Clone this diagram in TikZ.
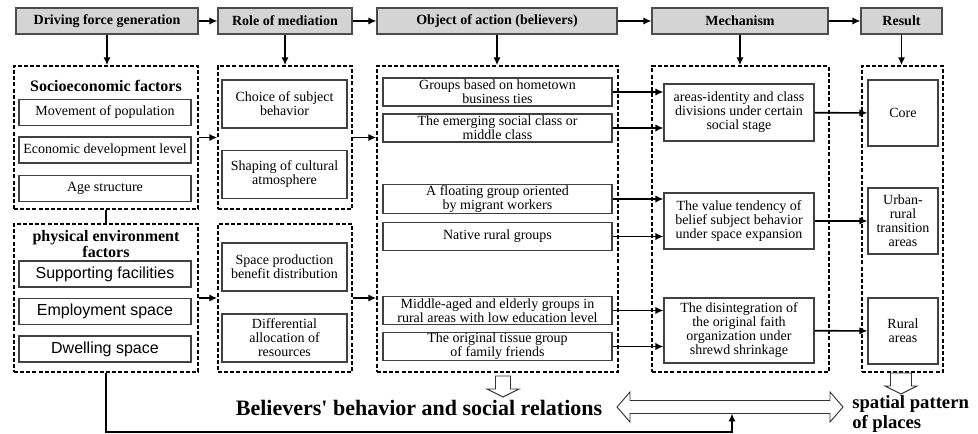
\documentclass[tikz,border=0pt]{standalone}
\usepackage{fontspec}
\setmainfont{Liberation Serif}
\newfontfamily\arialfont{Liberation Sans}
\newfontfamily\plainserif{Liberation Serif}[Ligatures=TeXOff]
\usetikzlibrary{arrows.meta}

\begin{document}
\begin{tikzpicture}[
    x=0.75pt, y=-0.75pt,
    every node/.append style={font=\fontsize{10.5}{10.5}\selectfont},
    header/.style={rectangle, draw=black!70, line width=0.8pt, fill=black!17, minimum height=19.5pt, inner sep=0pt, font=\fontsize{10.5}{12}\selectfont\bfseries},
    frame/.style={rectangle, draw=black, line width=1.1pt, dash pattern=on 3pt off 1.6pt, inner sep=0pt},
    item/.style={rectangle, draw=black!75, line width=0.8pt, fill=white, align=center, inner sep=0.5pt},
    sitem/.style={item, font=\arialfont\fontsize{12}{12}\selectfont},
    title/.style={align=center, font=\fontsize{12}{10.5}\selectfont\bfseries},
    arr/.style={-{Latex[length=6pt,width=5.5pt]}, line width=1.2pt},
    hollow/.style={draw=black!80, line width=0.7pt, fill=white}
]
    \useasboundingbox (0,0) rectangle (978,434);

    % Kopfzeile
    \node[header, minimum width=136.5pt] (hDrive) at (107,21) {Driving force generation};
    \node[header, minimum width=100.5pt] (hRole) at (285,21) {Role of mediation};
    \node[header, minimum width=180pt] (hObject) at (497,21) {Object of action (believers)};
    \node[header, minimum width=132pt] (hMech) at (740,21) {Mechanism};
    \node[header, minimum width=60.75pt] (hResult) at (901.5,21) {Result};

    % Rahmen
    \node[frame, minimum width=138pt, minimum height=107.25pt] (fSocio) at (106,137.5) {};
    \node[frame, minimum width=138pt, minimum height=111pt] (fPhys) at (106,298) {};
    \node[frame, minimum width=100.5pt, minimum height=107.25pt] (fRole1) at (285,137.5) {};
    \node[frame, minimum width=100.5pt, minimum height=111pt] (fRole2) at (285,298) {};
    \node[frame, minimum width=180.75pt, minimum height=229.5pt] (fObject) at (497.5,219) {};
    \node[frame, minimum width=132.75pt, minimum height=229.5pt] (fMech) at (740.5,219) {};
    \node[frame, minimum width=60.75pt, minimum height=229.5pt] (fResult) at (902.5,219) {};

    % Antriebskraft
    \node[title] (tSocio) at (106,86) {Socioeconomic factors};
    \node[item, minimum width=129pt, minimum height=19.5pt] (sMove) at (105,112.5) {Movement of population};
    \node[item, minimum width=129pt, minimum height=19.5pt] (sEcon) at (105,150) {Economic development level};
    \node[item, minimum width=129pt, minimum height=19.5pt] (sAge) at (105,188.5) {Age structure};
    \node[title] (tPhys) at (106,244) {physical environment\\factors};
    \node[sitem, minimum width=129pt, minimum height=19.5pt] (pSupp) at (105,274) {Supporting facilities};
    \node[sitem, minimum width=129pt, minimum height=19.5pt] (pEmpl) at (105,311.5) {Employment space};
    \node[sitem, minimum width=129pt, minimum height=19.5pt] (pDwell) at (105,349) {Dwelling space};

    % Vermittlung
    \node[item, minimum width=93.75pt, minimum height=36pt] (rChoice) at (284.5,104) {Choice of subject\\behavior};
    \node[item, minimum width=93.75pt, minimum height=36pt] (rShape) at (284.5,174.5) {Shaping of cultural\\atmosphere};
    \node[item, minimum width=93.75pt, minimum height=36pt] (rSpace) at (284.5,267) {Space production\\benefit distribution};
    \node[item, minimum width=93.75pt, minimum height=36pt] (rDiff) at (284.5,338) {Differential\\allocation of\\resources};

    % Glaeubige
    \node[item, minimum width=171.75pt, minimum height=21pt] (o1) at (497.5,92) {Groups based on hometown\\business ties};
    \node[item, minimum width=171.75pt, minimum height=21pt] (o2) at (497.5,128) {The emerging social class or\\middle class};
    \node[item, minimum width=171.75pt, minimum height=21pt] (o3) at (497.5,199) {A floating group oriented\\by migrant workers};
    \node[item, minimum width=171.75pt, minimum height=21pt] (o4) at (497.5,236.5) {Native rural groups};
    \node[item, minimum width=171.75pt, minimum height=21pt] (o5) at (497.5,310.5) {Middle-aged and elderly groups in\\rural areas with low education level};
    \node[item, minimum width=171.75pt, minimum height=21pt] (o6) at (497.5,346.5) {The original tissue group\\of family friends};

    % Mechanismus
    \node[item, minimum width=112.5pt, minimum height=42.75pt] (m1) at (739,112.5) {areas-identity and class\\divisions under certain\\social stage};
    \node[item, minimum width=112.5pt, minimum height=42pt] (m2) at (739,221) {The value tendency of\\belief subject behavior\\under space expansion};
    \node[item, minimum width=112.5pt, minimum height=48.75pt] (m3) at (739,330.5) {The disintegration of\\the original faith\\organization under\\shrewd shrinkage};

    % Ergebnis
    \node[item, minimum width=52.5pt, minimum height=49.5pt] (rsCore) at (903,113) {Core};
    \node[item, minimum width=52.5pt, minimum height=49.5pt] (rsTrans) at (903,221) {Urban-\\rural\\transition\\areas};
    \node[item, minimum width=52.5pt, minimum height=49.5pt] (rsRural) at (903,331) {Rural\\areas};

    % Pfeile
    \draw[arr] (hDrive) -- (hRole);
    \draw[arr] (hRole) -- (hObject);
    \draw[arr] (hObject) -- (hMech);
    \draw[arr] (hMech) -- (hResult);
    \draw[arr] (hDrive.south) -- (hDrive.south |- fSocio.north);
    \draw[arr] (hRole) -- (fRole1);
    \draw[arr] (hObject.south) -- (hObject.south |- fObject.north);
    \draw[arr] (hMech.south) -- (hMech.south |- fMech.north);
    \draw[arr] (hResult.south) -- (hResult.south |- fResult.north);
    \draw[line width=1.2pt] (fSocio) -- (fPhys);
    \draw[arr] (fSocio) -- (fRole1);
    \draw[arr] (fPhys) -- (fRole2);
    \draw[arr] (fRole1.east) -- (fRole1.east -| fObject.west);
    \draw[arr] (fRole2.east) -- (fRole2.east -| fObject.west);
    \draw[arr] (o1.east) -- (o1.east -| m1.west);
    \draw[arr] (o2.east) -- (o2.east -| m1.west);
    \draw[arr] (o3.east) -- (o3.east -| m2.west);
    \draw[arr] (o4.east) -- (o4.east -| m2.west);
    \draw[arr] (o5.east) -- (o5.east -| m3.west);
    \draw[arr] (o6.east) -- (o6.east -| m3.west);
    \draw[arr] (m1) -- (rsCore);
    \draw[arr] (m2) -- (rsTrans);
    \draw[arr] (m3) -- (rsRural);

    % Blockpfeile unten
    \draw[hollow] (495.5,376) -- (510.5,376) -- (510.5,389) -- (519,389) -- (503,397) -- (487,389) -- (495.5,389) -- cycle;
    \draw[hollow] (890.5,373) -- (911.5,373) -- (911.5,386) -- (917,386) -- (901,394) -- (885,386) -- (890.5,386) -- cycle;
    \draw[hollow] (617,407) -- (630,392) -- (630,400.5) -- (830,400.5) -- (830,392) -- (843,407)
        -- (830,422) -- (830,413.5) -- (630,413.5) -- (630,422) -- cycle;
    \coordinate (dblBot) at (732,413.5);
    \coordinate (turn) at (106,432);

    \node[font=\plainserif\fontsize{16.5}{16.5}\selectfont\bfseries] (believers) at (419,408) {Believers' behavior and social relations};
    \node[anchor=west, align=left, inner sep=0pt, font=\fontsize{14}{15.5}\selectfont\bfseries] (spatial) at (852,414) {spatial pattern\\of places};

    \draw[arr] (fPhys.south) -- (turn) -| (dblBot);

\end{tikzpicture}
\end{document}
